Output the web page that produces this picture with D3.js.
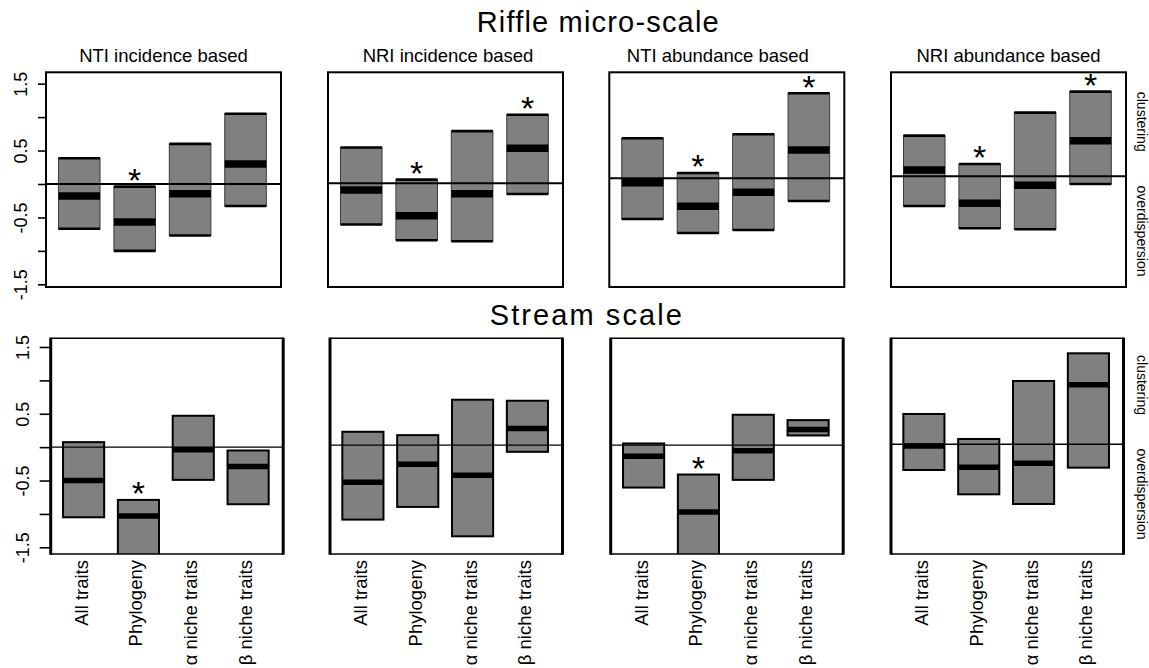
<!DOCTYPE html>
<html>
<head>
<meta charset="utf-8">
<script src="https://cdn.jsdelivr.net/npm/d3@7"></script>
<style>
  html, body { margin: 0; padding: 0; background: #fff; }
  svg { display: block; font-family: "Liberation Sans", Arial, Helvetica, sans-serif; }
</style>
</head>
<body>
<script>
// Standardised effect sizes (NTI / NRI) of community structure, by trait set
const scaleTitles = ["Riffle micro-scale", "Stream scale"];
const metricTitles = ["NTI incidence based", "NRI incidence based", "NTI abundance based", "NRI abundance based"];
const traitSets = ["All traits", "Phylogeny", "\u03b1 niche traits", "\u03b2 niche traits"];
const yTicks = [-1.5, -1, -0.5, 0, 0.5, 1, 1.5];
const yTickLabels = ["-1.5", "", "-0.5", "", "0.5", "", "1.5"];

// Riffle micro-scale: one row per metric, one value per trait set
const riffleLow  = [[-0.67, -1.00, -0.77, -0.33], [-0.615, -0.85, -0.865, -0.16], [-0.61, -0.82, -0.775, -0.34], [-0.445, -0.78, -0.795, -0.115]];
const riffleMid  = [[-0.18, -0.57, -0.145, 0.30], [-0.10, -0.485, -0.155, 0.525], [-0.065, -0.42, -0.21, 0.425], [0.095, -0.405, -0.135, 0.535]];
const riffleHigh = [[0.385, -0.04, 0.60, 1.05], [0.535, 0.055, 0.78, 1.025], [0.60, 0.08, 0.66, 1.275], [0.61, 0.185, 0.955, 1.27]];
const riffleSig  = [[false, true, false, false], [false, true, false, true], [false, true, false, true], [false, true, false, true]];

// Stream scale
const streamLow  = [[-1.05, -1.90, -0.49, -0.855], [-1.115, -0.925, -1.365, -0.10], [-0.635, -1.90, -0.52, 0.145], [-0.385, -0.75, -0.895, -0.35]];
const streamMid  = [[-0.50, -1.03, -0.04, -0.29], [-0.555, -0.285, -0.45, 0.25], [-0.165, -1.00, -0.085, 0.235], [-0.025, -0.345, -0.285, 0.895]];
const streamHigh = [[0.075, -0.79, 0.47, -0.05], [0.20, 0.15, 0.68, 0.665], [0.025, -0.44, 0.455, 0.375], [0.455, 0.08, 0.95, 1.365]];
const streamSig  = [[false, true, false, false], [false, false, false, false], [false, true, false, false], [false, false, false, false]];

// y limits of each panel (bottom, top), row by row
const yLimits = [
  [[-1.54, 1.67], [-1.55, 1.66], [-1.63, 1.59], [-1.66, 1.56]],
  [[-1.60, 1.63], [-1.63, 1.60], [-1.63, 1.60], [-1.645, 1.59]]
];

const rowsData = [
  { low: riffleLow, mid: riffleMid, high: riffleHigh, sig: riffleSig },
  { low: streamLow, mid: streamMid, high: streamHigh, sig: streamSig }
];

// panel geometry
const rows = [
  { top: 72.3, bottom: 287, lefts: [46, 328, 609.3, 891], width: 235, titleY: 31.7, titleX: 597.7, titleLen: 242,
    tickLen: 8, tickLabelX: 27, median: 7.5, sideUp: 121.7, sideDown: 231 },
  { top: 338.3, bottom: 554, lefts: [50.7, 330, 610.7, 891], width: 232.5, titleY: 325, titleX: 585.8, titleLen: 192,
    tickLen: 11, tickLabelX: 28.5, median: 5.5, sideUp: 385, sideDown: 494 }
];
const metricTitleShift = [0, 2.5, -9, 0];

const W = 1149, H = 668;
const svg = d3.select("body").append("svg").attr("width", W).attr("height", H);
svg.append("rect").attr("width", W).attr("height", H).attr("fill", "#fff");
const defs = svg.append("defs");

rows.forEach((g, r) => {
  // row heading
  svg.append("text")
    .attr("x", g.titleX).attr("y", g.titleY)
    .attr("text-anchor", "middle")
    .attr("font-size", 29)
    .attr("textLength", g.titleLen).attr("lengthAdjust", "spacing")
    .attr("fill", "#000")
    .text(scaleTitles[r]);

  const d = rowsData[r];

  g.lefts.forEach((left, c) => {
    const right = left + g.width;
    const x = d3.scaleLinear().domain([0.4, 4.64]).range([left, right]);
    const y = d3.scaleLinear().domain(yLimits[r][c]).range([g.bottom, g.top]);
    const boxW = x(1.75) - x(1);

    const clipId = `clip-${r}-${c}`;
    defs.append("clipPath").attr("id", clipId)
      .append("rect").attr("x", left).attr("y", g.top).attr("width", g.width).attr("height", g.bottom - g.top);

    const panel = svg.append("g");
    const plot = panel.append("g").attr("clip-path", `url(#${clipId})`);

    const boxes = traitSets.map((t, i) => ({
      pos: i + 1, low: d.low[c][i], mid: d.mid[c][i], high: d.high[c][i], sig: d.sig[c][i]
    }));

    const bx = plot.selectAll("g.box").data(boxes).join("g").attr("class", "box");
    bx.append("rect")
      .attr("x", b => x(b.pos) - boxW / 2)
      .attr("y", b => y(b.high))
      .attr("width", boxW)
      .attr("height", b => y(b.low) - y(b.high))
      .attr("fill", "#808080")
      .attr("stroke", r === 0 ? "#3a3a3a" : "#000")
      .attr("stroke-width", r === 0 ? 1 : 2);

    if (r === 0) {
      // end caps of each box
      ["low", "high"].forEach(k => {
        bx.append("line")
          .attr("x1", b => x(b.pos) - boxW / 2).attr("x2", b => x(b.pos) + boxW / 2)
          .attr("y1", b => y(b[k])).attr("y2", b => y(b[k]))
          .attr("stroke", "#000").attr("stroke-width", 2.6);
      });
    }

    // medians
    bx.append("line")
      .attr("x1", b => x(b.pos) - boxW / 2).attr("x2", b => x(b.pos) + boxW / 2)
      .attr("y1", b => y(b.mid)).attr("y2", b => y(b.mid))
      .attr("stroke", "#000").attr("stroke-width", g.median);

    // reference line at zero
    plot.append("line")
      .attr("x1", left).attr("x2", right)
      .attr("y1", y(0)).attr("y2", y(0))
      .attr("stroke", "#000").attr("stroke-width", r === 0 ? 2 : 1.4);

    // significance marks
    panel.selectAll("text.sig").data(boxes.filter(b => b.sig)).join("text")
      .attr("class", "sig")
      .attr("x", b => x(b.pos))
      .attr("y", b => y(b.high) + 5.5)
      .attr("text-anchor", "middle")
      .attr("font-size", 34)
      .attr("fill", "#000")
      .text("*");

    // panel frame
    if (r === 0) {
      panel.append("rect")
        .attr("x", left).attr("y", g.top).attr("width", g.width).attr("height", g.bottom - g.top)
        .attr("fill", "none").attr("stroke", "#000").attr("stroke-width", 2);
    } else {
      panel.append("line").attr("x1", left).attr("x2", right).attr("y1", g.top).attr("y2", g.top)
        .attr("stroke", "#000").attr("stroke-width", 1.5);
      panel.append("line").attr("x1", left).attr("x2", right).attr("y1", g.bottom).attr("y2", g.bottom)
        .attr("stroke", "#000").attr("stroke-width", 1.5);
      [left, right].forEach(xx => {
        panel.append("line").attr("x1", xx).attr("x2", xx).attr("y1", g.top - 0.75).attr("y2", g.bottom + 0.75)
          .attr("stroke", "#000").attr("stroke-width", 3);
      });
    }

    // metric heading above the first row
    if (r === 0) {
      svg.append("text")
        .attr("x", (left + right) / 2 + metricTitleShift[c]).attr("y", 61.7)
        .attr("text-anchor", "middle")
        .attr("font-size", 18.5)
        .attr("fill", "#000")
        .text(metricTitles[c]);
    }

    // y axis on the first column
    if (c === 0) {
      const ax = panel.append("g")
        .attr("transform", `translate(${left},0)`)
        .call(d3.axisLeft(y).tickValues(yTicks).tickSize(g.tickLen).tickSizeOuter(0)
          .tickFormat((v, i) => yTickLabels[i]));
      ax.select(".domain").remove();
      ax.selectAll(".tick line").attr("stroke", "#000").attr("stroke-width", 1.6);
      ax.selectAll(".tick text")
        .attr("x", 0).attr("dy", 0)
        .attr("text-anchor", "middle")
        .attr("transform", `translate(${g.tickLabelX - left},0) rotate(-90)`)
        .attr("font-size", 18)
        .attr("font-family", "Liberation Sans, Arial, sans-serif")
        .attr("fill", "#000");
    }

    // trait-set labels under the lower row
    if (r === 1) {
      panel.selectAll("text.cat").data(traitSets).join("text")
        .attr("class", "cat")
        .attr("transform", (t, i) => `translate(${x(i + 1) + 4},${g.bottom + 6}) rotate(-90)`)
        .attr("text-anchor", "end")
        .attr("font-size", 18.5)
        .attr("fill", "#000")
        .text(t => t);
    }

    // direction labels at the right edge
    if (c === 3) {
      [["clustering", g.sideUp], ["overdispersion", g.sideDown]].forEach(([t, yy]) => {
        svg.append("text")
          .attr("transform", `translate(1136.5,${yy}) rotate(90)`)
          .attr("text-anchor", "middle")
          .attr("font-size", 14)
          .attr("fill", "#000")
          .text(t);
      });
    }
  });
});
</script>
</body>
</html>
